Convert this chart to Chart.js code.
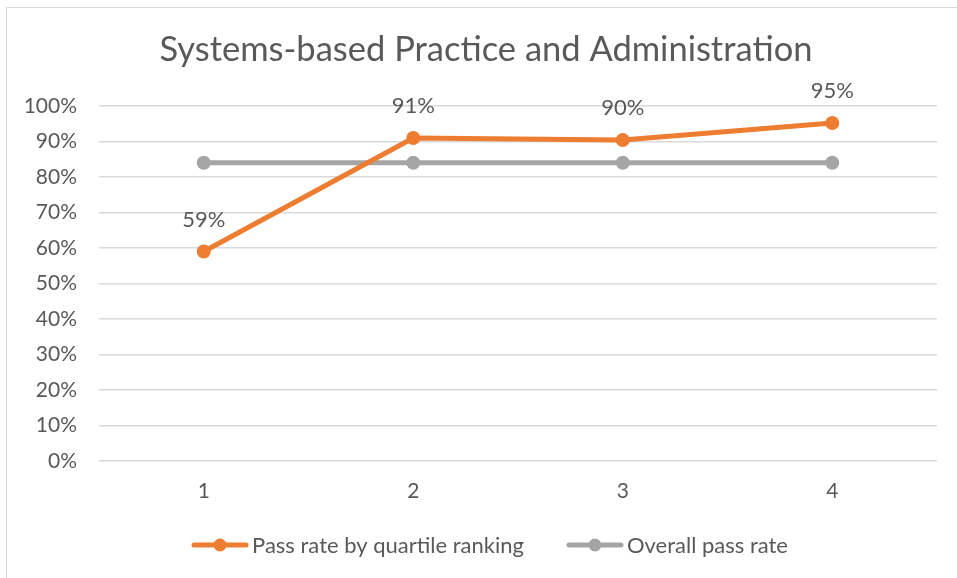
<!DOCTYPE html>
<html>
<head>
<meta charset="utf-8">
<script src="https://cdn.jsdelivr.net/npm/chart.js@4.4.1/dist/chart.umd.min.js"></script>
<style>
  body { margin: 0; background: #ffffff; }
  canvas { display: block; }
</style>
</head>
<body>
<canvas id="chart" width="957" height="578"></canvas>
<script>
const quartiles = ["1", "2", "3", "4"];
const passByQuartile = [59, 91, 90.4, 95.2];
const overallPass = [84, 84, 84, 84];
const yTicks = [0, 10, 20, 30, 40, 50, 60, 70, 80, 90, 100];
const chartTitle = "Systems-based Practice and Administration";

const ORANGE = "#ED7D31";
const GREY = "#A5A5A5";
const TEXT = "#595959";
const FONT = "Lato";

// frame, title and legend are drawn by hand so they sit where the original has them
const decor = {
	id: "decor",
	beforeDraw: (chart) => {
		const { ctx } = chart;
		ctx.save();
		ctx.fillStyle = "#ffffff";
		ctx.fillRect(0, 0, chart.width, chart.height);
		ctx.strokeStyle = "#D9D9D9";
		ctx.lineWidth = 1;
		ctx.strokeRect(6.5, 7.5, 960, 580);
		ctx.restore();
	},
	afterDraw: (chart) => {
		const { ctx } = chart;
		ctx.save();
		ctx.fillStyle = TEXT;
		ctx.textBaseline = "middle";

		ctx.font = "34.5px " + FONT;
		ctx.textAlign = "center";
		ctx.fillText(chartTitle, 486, 50);

		// legend: line + dot marker, text, gap, next item
		ctx.font = "22px " + FONT;
		ctx.textAlign = "left";
		const markW = 56, gapText = 4, gapItem = 43, y = 545;
		const items = chart.data.datasets.map(ds => ({ text: ds.label, color: ds.borderColor, w: ctx.measureText(ds.label).width }));
		const total = items.reduce((s, it) => s + markW + gapText + it.w, 0) + gapItem * (items.length - 1);
		let x = 490 - total / 2;
		items.forEach(it => {
			ctx.strokeStyle = it.color;
			ctx.fillStyle = it.color;
			ctx.lineWidth = 5;
			ctx.lineCap = "round";
			ctx.beginPath();
			ctx.moveTo(x + 2, y);
			ctx.lineTo(x + markW - 2, y);
			ctx.stroke();
			ctx.beginPath();
			ctx.arc(x + markW / 2, y, 6.5, 0, Math.PI * 2);
			ctx.fill();
			ctx.fillStyle = TEXT;
			ctx.fillText(it.text, x + markW + gapText, y + 1);
			x += markW + gapText + it.w + gapItem;
		});
		ctx.restore();
	}
};

const pointLabels = {
	id: "pointLabels",
	afterDatasetsDraw: (chart) => {
		const { ctx } = chart;
		const meta = chart.getDatasetMeta(0);
		ctx.save();
		ctx.fillStyle = TEXT;
		ctx.font = "22px " + FONT;
		ctx.textAlign = "center";
		ctx.textBaseline = "middle";
		meta.data.forEach((pt, i) => {
			ctx.fillText(Math.round(passByQuartile[i]) + "%", pt.x, pt.y - 32);
		});
		ctx.restore();
	}
};

new Chart(document.getElementById("chart"), {
	type: "line",
	data: {
		labels: quartiles,
		datasets: [{
			label: "Pass rate by quartile ranking",
			data: passByQuartile,
			borderColor: ORANGE,
			backgroundColor: ORANGE,
			borderWidth: 5,
			pointRadius: 7,
			pointHoverRadius: 7,
			pointBorderWidth: 0,
			tension: 0,
			order: 1
		}, {
			label: "Overall pass rate",
			data: overallPass,
			borderColor: GREY,
			backgroundColor: GREY,
			borderWidth: 5,
			pointRadius: 7,
			pointHoverRadius: 7,
			pointBorderWidth: 0,
			tension: 0,
			order: 2
		}]
	},
	options: {
		responsive: false,
		animation: false,
		layout: { padding: { left: 0, right: 20, top: 106, bottom: 72 } },
		plugins: {
			title: { display: false },
			legend: { display: false },
			tooltip: { enabled: false }
		},
		scales: {
			x: {
				offset: true,
				grid: { display: false, drawTicks: false },
				border: { display: false },
				ticks: { color: TEXT, font: { family: FONT, size: 21 }, padding: 18 },
				afterFit: (scale) => { scale.height = 45; }
			},
			y: {
				min: 0,
				max: 100,
				afterBuildTicks: (scale) => { scale.ticks = yTicks.map(v => ({ value: v })); },
				grid: { color: "#D9D9D9", lineWidth: 1.5, drawTicks: false },
				border: { display: false },
				ticks: {
					color: TEXT,
					font: { family: FONT, size: 21 },
					padding: 22,
					callback: (v) => v + "%"
				},
				afterFit: (scale) => { scale.width = 99; }
			}
		}
	},
	plugins: [decor, pointLabels]
});
</script>
</body>
</html>
